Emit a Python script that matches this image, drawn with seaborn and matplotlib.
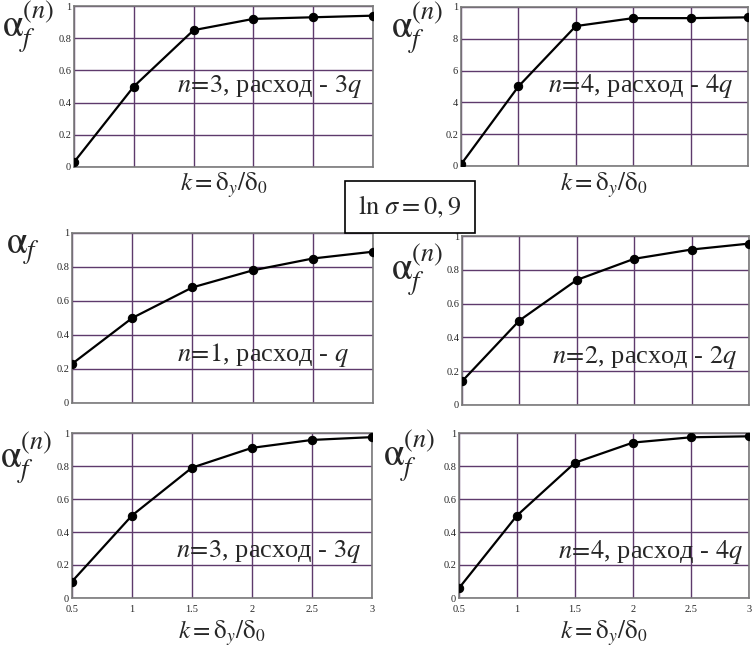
import matplotlib
matplotlib.use('Agg')
import matplotlib.pyplot as plt
import seaborn as sns
import pandas as pd

# x values: k = delta_y / delta_0
k_vals = [0.5, 1.0, 1.5, 2.0, 2.5, 3.0]
k_labels = ['0.5', '1', '1.5', '2', '2.5', '3']
a_ticks = [0, 0.2, 0.4, 0.6, 0.8, 1.0]
a_labels = ['0', '0.2', '0.4', '0.6', '0.8', '1']
a_labels_cut = ['0', '0.2', '4', '6', '8', '1']   # top right panel, scan cut the "0."

# alpha_f values
top_n3 = [0.03, 0.50, 0.85, 0.92, 0.93, 0.94]
top_n4 = [0.01, 0.50, 0.88, 0.93, 0.93, 0.935]
mid_n1 = [0.23, 0.50, 0.68, 0.78, 0.85, 0.89]
mid_n2 = [0.14, 0.50, 0.74, 0.865, 0.92, 0.955]
bot_n3 = [0.10, 0.50, 0.79, 0.91, 0.958, 0.975]
bot_n4 = [0.06, 0.50, 0.82, 0.942, 0.974, 0.98]

notes = ['$n\\!=\\!\\mathit{3}$, расход - $\\mathit{3q}$',
         '$n\\!=\\!\\mathit{4}$, расход - $\\mathit{4q}$',
         '$n\\!=\\!\\mathit{1}$, расход - $q$',
         '$n\\!=\\!\\mathit{2}$, расход - $\\mathit{2q}$',
         '$n\\!=\\!\\mathit{3}$, расход - $\\mathit{3q}$',
         '$n\\!=\\!\\mathit{4}$, расход - $\\mathit{4q}$']
ylabels = ['$\\mathrm{\\alpha}_f^{(n)}$', '$\\mathrm{\\alpha}_f^{(n)}$',
           '$\\mathrm{\\alpha}_f$', '$\\mathrm{\\alpha}_f^{(n)}$',
           '$\\mathrm{\\alpha}_f^{(n)}$', '$\\mathrm{\\alpha}_f^{(n)}$']
xlabel = '$k=\\mathrm{\\delta}_y/\\mathrm{\\delta}_0$'
box_text = '$\\ln\\,\\sigma=0,9$'

sns.set_style('white')
plt.rcParams['font.family'] = ['Liberation Serif', 'DejaVu Serif']
plt.rcParams['mathtext.fontset'] = 'stix'

W, H = 752, 655
fig = plt.figure(figsize=(W / 100, H / 100), dpi=100)

def px(l, t, r, b):
    return [l / W, 1 - b / H, (r - l) / W, (b - t) / H]

boxes = [px(74, 6, 373, 167), px(461, 7, 748, 166),
         px(72, 233, 373, 403), px(462, 236, 749, 405),
         px(72, 433, 372, 598), px(459, 433, 749, 598)]
series = [top_n3, top_n4, mid_n1, mid_n2, bot_n3, bot_n4]
note_pos = [(0.965, 0.50), (0.95, 0.50), (0.92, 0.28),
            (0.96, 0.28), (0.965, 0.28), (0.98, 0.28)]
ylab_pos = [(2, 27), (391, 28), (6, 250), (391, 270), (0, 458), (383, 456)]

for i in range(6):
    ax = fig.add_axes(boxes[i])
    df = pd.DataFrame({'k': k_vals, 'a': series[i]})
    sns.lineplot(data=df, x='k', y='a', ax=ax, color='black', lw=1.6,
                 marker='o', markersize=6, markeredgecolor='black', zorder=5)
    ax.set_xlim(0.5, 3.0)
    ax.set_ylim(0, 1.0)
    ax.set_xticks(k_vals)
    ax.set_yticks(a_ticks)
    ax.set_yticklabels(a_labels_cut if i == 1 else a_labels, fontsize=7.5)
    if i >= 4:
        ax.set_xticklabels(k_labels, fontsize=7.5)
    else:
        ax.set_xticklabels([])
    ax.tick_params(axis='y', length=0, pad=2)
    ax.tick_params(axis='x', length=0, pad=5)
    ax.set_xlabel('')
    ax.set_ylabel('')
    ax.grid(True, color='#5e3a6c', lw=1.0)
    for s in ax.spines.values():
        s.set_color('#7a7a7a')
        s.set_linewidth(1.2)
    ax.text(note_pos[i][0], note_pos[i][1], notes[i], transform=ax.transAxes,
            ha='right', va='center', fontsize=19)
    fig.text(ylab_pos[i][0] / W, 1 - ylab_pos[i][1] / H, ylabels[i],
             ha='left', va='center', fontsize=27)

# x labels
fig.text(224 / W, 1 - 185 / H, xlabel, ha='center', va='center', fontsize=18)
fig.text(604 / W, 1 - 185 / H, xlabel, ha='center', va='center', fontsize=18)
fig.text(222 / W, 1 - 633 / H, xlabel, ha='center', va='center', fontsize=18)
fig.text(604 / W, 1 - 633 / H, xlabel, ha='center', va='center', fontsize=18)

fig.text(410 / W, 1 - 207 / H, box_text, ha='center', va='center', fontsize=19,
         bbox=dict(boxstyle='square,pad=0.5', facecolor='white',
                   edgecolor='black', lw=1.2))

fig.savefig('out.png', dpi=100)
